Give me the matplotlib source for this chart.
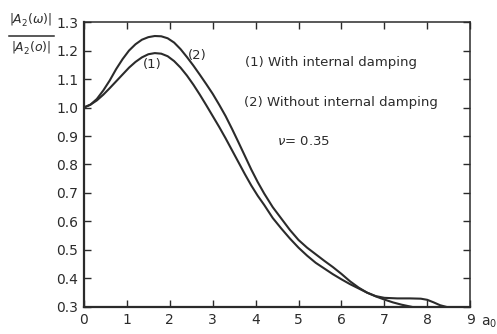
import matplotlib
matplotlib.use("Agg")
import matplotlib.pyplot as plt

# ── Data ──────────────────────────────────────────────────────────────────────
# curve (2): without internal damping
a0_no_damp = [0.0, 0.15, 0.3, 0.45, 0.6, 0.75, 0.9, 1.05, 1.2, 1.35, 1.5, 1.65,
              1.8, 1.95, 2.1, 2.25, 2.4, 2.55, 2.7, 2.85, 3.0, 3.15, 3.3, 3.45,
              3.6, 3.75, 3.9, 4.05, 4.2, 4.4, 4.6, 4.8, 5.0, 5.2, 5.4, 5.6,
              5.8, 6.0, 6.2, 6.4, 6.6, 6.8, 7.0, 7.3, 7.6, 7.85, 8.0, 8.15,
              8.3, 8.45]
amp_no_damp = [1.000, 1.010, 1.030, 1.060, 1.095, 1.135, 1.170, 1.200, 1.222,
               1.238, 1.247, 1.251, 1.250, 1.243, 1.228, 1.205, 1.177, 1.147,
               1.115, 1.082, 1.048, 1.010, 0.970, 0.925, 0.878, 0.830, 0.782,
               0.738, 0.698, 0.650, 0.610, 0.570, 0.535, 0.508, 0.485, 0.462,
               0.440, 0.416, 0.390, 0.368, 0.350, 0.338, 0.332, 0.330, 0.330,
               0.329, 0.325, 0.316, 0.306, 0.300]

# curve (1): with internal damping
a0_damp = [0.0, 0.15, 0.3, 0.45, 0.6, 0.75, 0.9, 1.05, 1.2, 1.35, 1.5, 1.65,
           1.8, 1.95, 2.1, 2.25, 2.4, 2.55, 2.7, 2.85, 3.0, 3.15, 3.3, 3.45,
           3.6, 3.75, 3.9, 4.05, 4.2, 4.4, 4.6, 4.8, 5.0, 5.2, 5.4, 5.6, 5.8,
           6.0, 6.2, 6.4, 6.6, 6.8, 7.0, 7.2, 7.4, 7.65]
amp_damp = [1.000, 1.010, 1.025, 1.045, 1.068, 1.092, 1.116, 1.140, 1.160,
            1.176, 1.187, 1.191, 1.189, 1.180, 1.163, 1.140, 1.112, 1.080,
            1.045, 1.008, 0.970, 0.932, 0.892, 0.850, 0.808, 0.766, 0.726,
            0.690, 0.658, 0.612, 0.575, 0.540, 0.508, 0.480, 0.455, 0.435,
            0.415, 0.397, 0.380, 0.365, 0.350, 0.337, 0.326, 0.316, 0.308,
            0.300]

x_ticks = list(range(0, 10))
y_ticks = [0.3, 0.4, 0.5, 0.6, 0.7, 0.8, 0.9, 1.0, 1.1, 1.2, 1.3]

ink = "#2b2b2b"
plt.rcParams["font.family"] = ["DejaVu Sans"]

fig = plt.figure(figsize=(4.97, 3.34), dpi=100)
ax = fig.add_axes([0.169, 0.081, 0.777, 0.853])

ax.plot(a0_damp, amp_damp, color=ink, lw=1.5, solid_joinstyle="round",
        solid_capstyle="round")
ax.plot(a0_no_damp, amp_no_damp, color=ink, lw=1.5, solid_joinstyle="round",
        solid_capstyle="round")

ax.set_xlim(0, 9)
ax.set_ylim(0.3, 1.3)
ax.set_xticks(x_ticks)
ax.set_xticklabels([str(t) for t in x_ticks])
ax.set_yticks(y_ticks)
ax.set_yticklabels([f"{t:.1f}" for t in y_ticks])
ax.tick_params(direction="in", top=True, right=True, length=5, width=1.0,
               colors=ink, labelsize=10, pad=4)
for side in ["left", "bottom"]:
    ax.spines[side].set_linewidth(1.6)
for side in ["top", "right"]:
    ax.spines[side].set_linewidth(1.1)
for sp in ax.spines.values():
    sp.set_color(ink)

# curve labels
ax.text(1.6, 1.175, "(1)", fontsize=9.5, color=ink, ha="center", va="top")
ax.text(2.65, 1.205, "(2)", fontsize=9.5, color=ink, ha="center", va="top")

# notes
ax.text(3.75, 1.158, "(1) With internal damping", fontsize=9.5, color=ink,
        va="center")
ax.text(3.72, 1.018, "(2) Without internal damping", fontsize=9.5, color=ink,
        va="center")
ax.text(4.5, 0.88, r"$\nu$= 0.35", fontsize=9.5, color=ink, va="center")

# x axis symbol
fig.text(0.968, 0.035, r"a$_0$", fontsize=10, color=ink, ha="left", va="center")

# y axis label as a fraction of absolute values
fig.text(0.062, 0.943, r"$\left|A_2(\omega)\right|$", fontsize=9, color=ink,
         ha="center", va="center")
fig.text(0.062, 0.858, r"$\left|A_2(o)\right|$", fontsize=9, color=ink,
         ha="center", va="center")
fig.add_artist(plt.Line2D([0.018, 0.108], [0.893, 0.893], color=ink, lw=1.1,
                          transform=fig.transFigure))

fig.savefig("out.png", dpi=100, facecolor="white")
